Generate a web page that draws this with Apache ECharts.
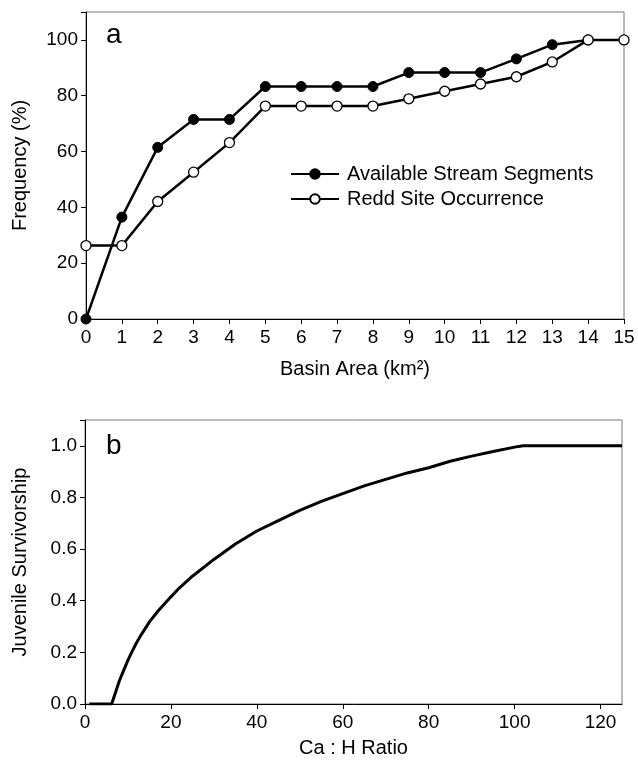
<!DOCTYPE html>
<html>
<head>
<meta charset="utf-8">
<script src="https://cdn.jsdelivr.net/npm/echarts@6/dist/echarts.min.js"></script>
<style>html,body{margin:0;padding:0;background:#fff;}#c{width:638px;height:764px;}</style>
</head>
<body>
<div id="c"></div>
<script>
// Panel a data
const basinArea = [0,1,2,3,4,5,6,7,8,9,10,11,12,13,14,15];
const availableSegments = [0,36.5,61.5,71.5,71.5,83.3,83.3,83.3,83.3,88.3,88.3,88.3,93.2,98.3,100];
const reddOccurrence = [26.3,26.3,42.1,52.6,63.2,76.3,76.3,76.3,76.3,78.9,81.6,84.2,86.8,92.1,100,100];
const freqTicks = [0,20,40,60,80,100];
// Panel b data
const caHRatio =     [1, 6.2, 7,    8,    9,    10,   11,    12,    13,    15,    17,   20,    22,   25,    30,   35,   40,   45,   50,   55,    60,    65,    70,   75,    80,    85,   90,   95,    100,   102, 125];
const survivorship = [0, 0,   0.04, 0.09, 0.13, 0.17, 0.205, 0.237, 0.266, 0.318, 0.36, 0.415, 0.45, 0.495, 0.56, 0.62, 0.67, 0.71, 0.75, 0.785, 0.815, 0.845, 0.87, 0.895, 0.915, 0.94, 0.96, 0.978, 0.995, 1.0, 1.0];

const FONT = '"Liberation Sans", Arial, sans-serif';
const chart = echarts.init(document.getElementById('c'), null, {renderer: 'canvas'});

const axisCommon = {
  axisLine: {show: true, lineStyle: {color: '#000', width: 1}},
  axisTick: {show: true, inside: false, length: 5, lineStyle: {color: '#000', width: 1}},
  axisLabel: {color: '#000', fontFamily: FONT, fontSize: 19, margin: 9},
  splitLine: {show: false},
  nameTextStyle: {color: '#000', fontFamily: FONT, fontSize: 20},
  nameLocation: 'middle'
};

chart.setOption({
  animation: false,
  backgroundColor: '#fff',
  grid: [
    {left: 86, right: 14, top: 12, bottom: 445, show: true, borderColor: '#777', borderWidth: 1, backgroundColor: 'transparent'},
    {left: 85, right: 16, top: 420, bottom: 60, show: true, borderColor: '#777', borderWidth: 1, backgroundColor: 'transparent'}
  ],
  xAxis: [
    Object.assign({}, axisCommon, {
      gridIndex: 0, type: 'value', min: 0, max: 15, interval: 1,
      name: 'Basin Area (km\u00B2)', nameGap: 40
    }),
    Object.assign({}, axisCommon, {
      gridIndex: 1, type: 'value', min: 0, max: 125, interval: 20,
      axisLabel: Object.assign({}, axisCommon.axisLabel, {showMaxLabel: false}),
      name: 'Ca : H Ratio', nameGap: 34
    })
  ],
  yAxis: [
    Object.assign({}, axisCommon, {
      gridIndex: 0, type: 'value', min: 0, max: 110, interval: 20,
      axisLabel: Object.assign({}, axisCommon.axisLabel, {
        margin: 8,
        formatter: v => freqTicks.indexOf(v) >= 0 ? String(v) : ''
      }),
      name: 'Frequency (%)', nameGap: 56
    }),
    Object.assign({}, axisCommon, {
      gridIndex: 1, type: 'value', min: 0, max: 1.1, interval: 0.2,
      axisLabel: Object.assign({}, axisCommon.axisLabel, {
        margin: 8,
        formatter: v => v > 1.05 ? '' : v.toFixed(1)
      }),
      name: 'Juvenile Survivorship', nameGap: 55
    })
  ],
  legend: {
    show: true,
    orient: 'vertical',
    left: 285, top: 159,
    itemWidth: 48, itemHeight: 12, itemGap: 5,
    textStyle: {color: '#000', fontFamily: FONT, fontSize: 20, padding: [0, 0, 0, 3]},
    data: ['Available Stream Segments', 'Redd Site Occurrence']
  },
  graphic: [
    {type: 'text', left: 106, top: 21, style: {text: 'a', fontFamily: FONT, fontSize: 28, fill: '#000'}},
    {type: 'text', left: 106, top: 432, style: {text: 'b', fontFamily: FONT, fontSize: 28, fill: '#000'}}
  ],
  series: [
    {
      name: 'Available Stream Segments', type: 'line', xAxisIndex: 0, yAxisIndex: 0,
      data: availableSegments.map((v, i) => [basinArea[i], v]),
      symbol: 'circle', symbolSize: 10,
      lineStyle: {color: '#000', width: 2.5},
      itemStyle: {color: '#000', borderColor: '#000', borderWidth: 1},
      z: 3
    },
    {
      name: 'Redd Site Occurrence', type: 'line', xAxisIndex: 0, yAxisIndex: 0,
      data: reddOccurrence.map((v, i) => [basinArea[i], v]),
      symbol: 'circle', symbolSize: 10,
      lineStyle: {color: '#000', width: 2.5},
      itemStyle: {color: '#fff', borderColor: '#000', borderWidth: 1.3},
      z: 4
    },
    {
      name: 'Survivorship', type: 'line', xAxisIndex: 1, yAxisIndex: 1,
      data: survivorship.map((v, i) => [caHRatio[i], v]),
      showSymbol: false, symbol: 'none',
      smooth: false,
      lineStyle: {color: '#000', width: 3, join: 'round'}
    }
  ]
});
</script>
</body>
</html>
